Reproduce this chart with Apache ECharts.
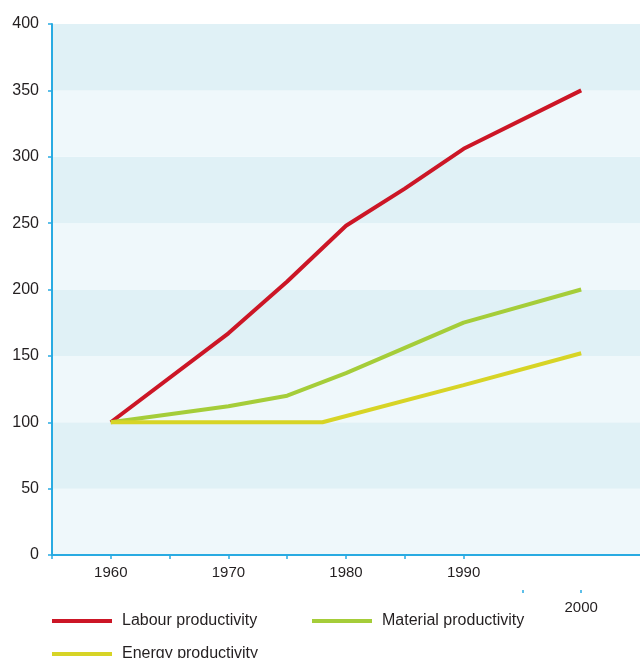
<!DOCTYPE html>
<html>
<head>
<meta charset="utf-8">
<script src="https://cdn.jsdelivr.net/npm/echarts@6/dist/echarts.min.js"></script>
<style>
  html, body { margin: 0; padding: 0; background: #ffffff; }
  #chart { width: 640px; height: 658px; }
</style>
</head>
<body>
<div id="chart"></div>
<script>
// Productivity index, 1960 = 100
const labourYears   = [1960, 1970, 1975, 1980, 1985, 1990, 2000];
const labourValues  = [100, 167, 206, 248, 276, 306, 350];
const materialYears = [1960, 1970, 1975, 1980, 1985, 1990, 2000];
const materialValues= [100, 112, 120, 137, 156, 175, 200];
const energyYears   = [1960, 1970, 1978, 1990, 2000];
const energyValues  = [100, 100, 100, 128, 152];

const seriesNames = ['Labour productivity', 'Material productivity', 'Energy productivity'];
const yTicks = [0, 50, 100, 150, 200, 250, 300, 350, 400];
const xMinorTicks = [1955, 1960, 1965, 1970, 1975, 1980, 1985, 1990];
const xLabels = [1960, 1970, 1980, 1990];
const xLowerTicks = [1995, 2000];
const xLowerLabels = [2000];

const pairs = (xs, ys) => xs.map((x, i) => [x, ys[i]]);
const plain = v => String(v);

const FONT = '"Liberation Sans", Arial, sans-serif';
const TEXT = '#231f20';
const AXIS_BLUE = '#29abe2';

const chart = echarts.init(document.getElementById('chart'));

const legendText = { color: TEXT, fontFamily: FONT, fontSize: 16, padding: [0, 0, 0, 5] };
const legendBase = {
  orient: 'horizontal',
  icon: 'rect',
  itemWidth: 60,
  itemHeight: 4,
  itemGap: 10,
  padding: 0,
  textStyle: legendText,
  selectedMode: false
};

chart.setOption({
  animation: false,
  backgroundColor: '#ffffff',
  grid: { left: 52, right: 0, top: 24, bottom: 103, containLabel: false },
  xAxis: [
    {
      type: 'value',
      min: 1955, max: 2005, interval: 5,
      axisLine: { show: true, lineStyle: { color: AXIS_BLUE, width: 2 } },
      axisTick: { show: true, length: 4, customValues: xMinorTicks, lineStyle: { color: AXIS_BLUE, width: 1.5 } },
      axisLabel: { customValues: xLabels, formatter: plain, margin: 10, color: TEXT, fontFamily: FONT, fontSize: 15 },
      splitLine: { show: false }
    },
    {
      type: 'value',
      position: 'bottom',
      offset: 35,
      min: 1955, max: 2005, interval: 5,
      axisLine: { show: false },
      axisTick: { show: true, length: 3, customValues: xLowerTicks, lineStyle: { color: AXIS_BLUE, width: 1.5 } },
      axisLabel: { customValues: xLowerLabels, formatter: plain, margin: 10, color: TEXT, fontFamily: FONT, fontSize: 15 },
      splitLine: { show: false }
    }
  ],
  yAxis: {
    type: 'value',
    min: 0, max: 400, interval: 50,
    axisLine: { show: true, lineStyle: { color: AXIS_BLUE, width: 2 } },
    axisTick: { show: true, length: 4, lineStyle: { color: AXIS_BLUE, width: 1.5 } },
    axisLabel: { margin: 13, formatter: plain, color: TEXT, fontFamily: FONT, fontSize: 16,
                 customValues: yTicks },
    splitLine: { show: false },
    splitArea: { show: true, areaStyle: { color: ['#eff8fb', '#e0f1f6'] } }
  },
  legend: [
    Object.assign({}, legendBase, { left: 52, top: 613, data: [seriesNames[0]] }),
    Object.assign({}, legendBase, { left: 312, top: 613, data: [seriesNames[1]] }),
    Object.assign({}, legendBase, { left: 52, top: 646, data: [seriesNames[2]] })
  ],
  series: [
    {
      name: seriesNames[0], type: 'line', xAxisIndex: 0,
      data: pairs(labourYears, labourValues),
      symbol: 'none', color: '#cc1626',
      lineStyle: { width: 4, color: '#cc1626' }
    },
    {
      name: seriesNames[1], type: 'line', xAxisIndex: 0,
      data: pairs(materialYears, materialValues),
      symbol: 'none', color: '#a5cd39',
      lineStyle: { width: 4, color: '#a5cd39' }
    },
    {
      name: seriesNames[2], type: 'line', xAxisIndex: 0,
      data: pairs(energyYears, energyValues),
      symbol: 'none', color: '#d7d426',
      lineStyle: { width: 4, color: '#d7d426' }
    }
  ]
});
</script>
</body>
</html>
